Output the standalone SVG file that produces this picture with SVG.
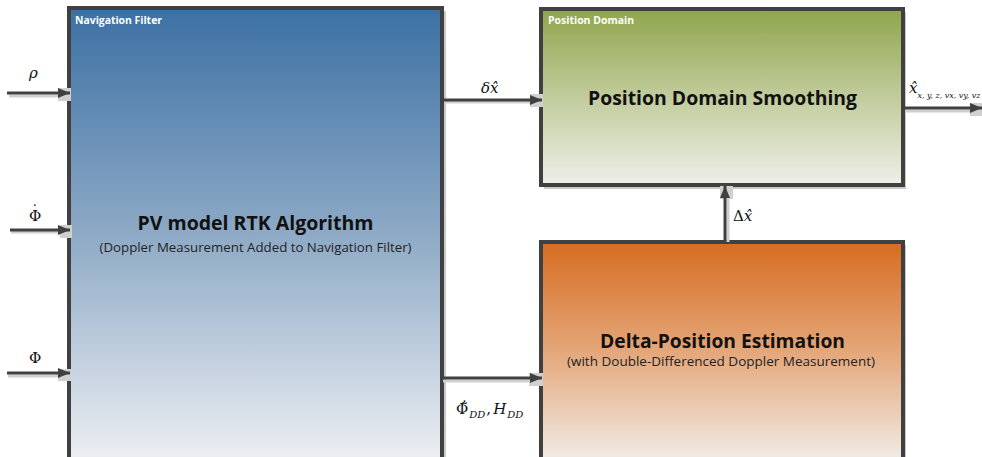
<svg xmlns="http://www.w3.org/2000/svg" width="982" height="457" viewBox="0 0 982 457">
  <defs>
    <linearGradient id="gNav" x1="0" y1="0" x2="0" y2="1">
      <stop offset="0" stop-color="#3c70a4"/>
      <stop offset="0.5" stop-color="#8eaac6"/>
      <stop offset="1" stop-color="#eef0f3"/>
    </linearGradient>
    <linearGradient id="gPos" x1="0" y1="0" x2="0" y2="1">
      <stop offset="0" stop-color="#8fa54c"/>
      <stop offset="0.5" stop-color="#c1cc9c"/>
      <stop offset="1" stop-color="#eeefe9"/>
    </linearGradient>
    <linearGradient id="gDelta" x1="0" y1="0" x2="0" y2="1">
      <stop offset="0" stop-color="#d66c20"/>
      <stop offset="0.5" stop-color="#e4a77a"/>
      <stop offset="1" stop-color="#f1ede9"/>
    </linearGradient>
    <marker id="head" markerWidth="14" markerHeight="12" refX="12" refY="6" orient="auto" markerUnits="userSpaceOnUse">
      <path d="M0,1 L12,6 L0,11 Z" fill="#404040"/>
    </marker>
  </defs>
  <style>
    .box { stroke: #404040; stroke-width: 4; }
    .shadow { fill: #c9c9c9; }
    .wire { stroke: #404040; stroke-width: 3; fill: none; marker-end: url(#head); }
    .wshadow { stroke: #cfcfcf; stroke-width: 3; fill: none; }
    .tab { fill: #d0d0d0; }
    .tag { font-family: "Open Sans", "Liberation Sans", sans-serif; font-weight: bold; font-size: 10px; fill: #ffffff; }
    .title { font-family: "Open Sans", "Liberation Sans", sans-serif; font-weight: bold; font-size: 19px; fill: #111111; text-anchor: middle; }
    .sub { font-family: "Open Sans", "Liberation Sans", sans-serif; font-size: 12px; fill: #222222; text-anchor: middle; }
    .math { font-family: "DejaVu Serif", "Liberation Serif", serif; font-size: 15px; fill: #111111; }
    .it { font-style: italic; }
    .low { font-size: 10px; font-style: italic; }
  </style>

  <!-- Navigation filter block -->
  <g id="nav-filter">
    <rect class="shadow" x="72" y="11" width="374" height="450"/>
    <rect class="box" x="69" y="8" width="373" height="455" fill="url(#gNav)"/>
    <text class="tag" x="75" y="24" textLength="87" lengthAdjust="spacingAndGlyphs">Navigation Filter</text>
    <text class="title" x="255.5" y="230" textLength="236" lengthAdjust="spacingAndGlyphs">PV model RTK Algorithm</text>
    <text class="sub" x="255.5" y="252" textLength="312" lengthAdjust="spacingAndGlyphs">(Doppler Measurement Added to Navigation Filter)</text>
  </g>

  <!-- Position domain block -->
  <g id="position-domain">
    <rect class="shadow" x="544" y="12" width="362" height="177"/>
    <rect class="box" x="541" y="9" width="362" height="176" fill="url(#gPos)"/>
    <text class="tag" x="548" y="24" textLength="86" lengthAdjust="spacingAndGlyphs">Position Domain</text>
    <text class="title" x="722.5" y="105" textLength="269" lengthAdjust="spacingAndGlyphs">Position Domain Smoothing</text>
  </g>

  <!-- Delta-position block -->
  <g id="delta-position">
    <rect class="shadow" x="544" y="245" width="362" height="220"/>
    <rect class="box" x="541" y="242" width="362" height="220" fill="url(#gDelta)"/>
    <text class="title" x="722.5" y="348" textLength="245" lengthAdjust="spacingAndGlyphs">Delta-Position Estimation</text>
    <text class="sub" x="721" y="366" textLength="308" lengthAdjust="spacingAndGlyphs">(with Double-Differenced Doppler Measurement)</text>
  </g>

  <!-- Connectors -->
  <g id="connectors">
    <!-- shadows and port tabs -->
    <line class="wshadow" x1="9" y1="96" x2="62" y2="96"/>
    <rect class="tab" x="58" y="88" width="13" height="13"/>
    <line class="wshadow" x1="11" y1="232" x2="62" y2="232"/>
    <rect class="tab" x="60" y="225" width="12" height="13"/>
    <line class="wshadow" x1="8" y1="376" x2="62" y2="376"/>
    <rect class="tab" x="58" y="369" width="13" height="12"/>
    <line class="wshadow" x1="444" y1="102" x2="534" y2="102"/>
    <rect class="tab" x="530" y="94" width="13" height="13"/>
    <line class="wshadow" x1="443" y1="381" x2="534" y2="381"/>
    <rect class="tab" x="529" y="373" width="14" height="13"/>
    <line class="wshadow" x1="906" y1="111" x2="976" y2="111"/>
    <rect class="tab" x="970" y="103" width="12" height="13"/>
    <line class="wshadow" x1="728" y1="242" x2="728" y2="195"/>
    <rect class="tab" x="720" y="186" width="13" height="13"/>

    <line class="wire" x1="7" y1="93" x2="70" y2="93"/>
    <line class="wire" x1="10" y1="230" x2="70" y2="230"/>
    <line class="wire" x1="7" y1="373" x2="70" y2="373"/>
    <line class="wire" x1="443" y1="100" x2="542" y2="100"/>
    <line class="wire" x1="443" y1="378" x2="542" y2="378"/>
    <line class="wire" x1="905" y1="108" x2="982" y2="108"/>
    <line class="wire" x1="725" y1="241" x2="725" y2="186"/>

    <!-- signal labels -->
    <text class="math it" x="29" y="78" font-size="16">ρ</text>
    <text class="math" x="29" y="221" font-size="15">Φ<tspan dx="-10" dy="-5" font-size="14">˙</tspan></text>
    <text class="math" x="29" y="363">Φ</text>
    <text class="math it" x="481" y="93">δx̂</text>
    <text class="math" x="733" y="221">Δ<tspan class="it">x̂</tspan></text>
    <text class="math" x="456" y="414" font-size="16">Φ̃̇<tspan class="low" dy="4" dx="1">DD</tspan><tspan dy="-4" dx="1">,</tspan><tspan class="it" dx="2">H</tspan><tspan class="low" dy="4" dx="1">DD</tspan></text>
    <text class="math it" x="909" y="93">x̂<tspan font-size="8" dy="5" textLength="63" lengthAdjust="spacingAndGlyphs">x, y, z, vx, vy, vz</tspan></text>
  </g>
</svg>
